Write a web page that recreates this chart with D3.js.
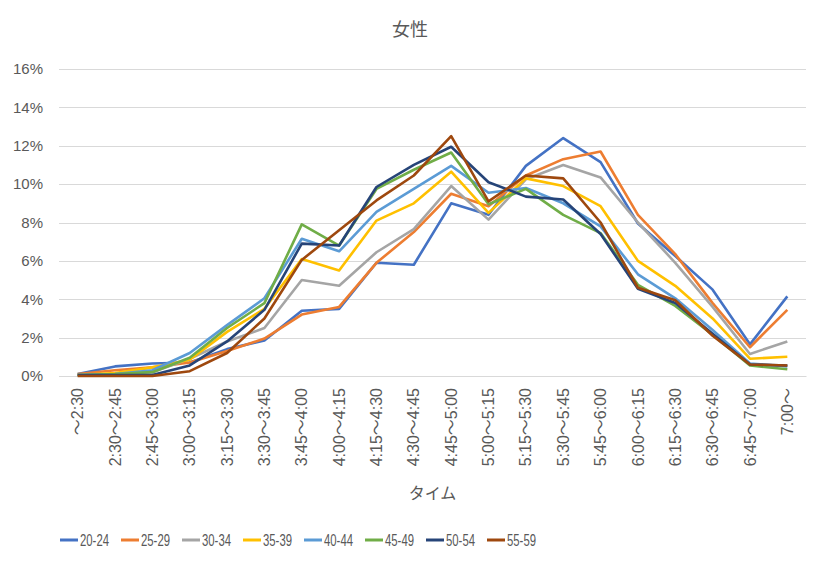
<!DOCTYPE html>
<html>
<head>
<meta charset="utf-8">
<script src="https://d3js.org/d3.v7.min.js"></script>
<style>
  body { margin: 0; background: #fff; overflow: hidden; }
  .grid line { stroke: #d9d9d9; stroke-width: 1; }
  .multiline { fill: none; stroke-width: 2.6; stroke-linejoin: round; }
</style>
</head>
<body>
<div id="multilineplot"></div>
<script>
//Data
var timeSlots = ["～2:30", "2:30～2:45", "2:45～3:00", "3:00～3:15", "3:15～3:30", "3:30～3:45",
  "3:45～4:00", "4:00～4:15", "4:15～4:30", "4:30～4:45", "4:45～5:00", "5:00～5:15",
  "5:15～5:30", "5:30～5:45", "5:45～6:00", "6:00～6:15", "6:15～6:30", "6:30～6:45",
  "6:45～7:00", "7:00～"];
var ageGroups = ["20-24", "25-29", "30-34", "35-39", "40-44", "45-49", "50-54", "55-59"];
var yTicks = [0, 2, 4, 6, 8, 10, 12, 14, 16];

// percentages per time slot
var age20_24 = [0.1, 0.5, 0.65, 0.7, 1.4, 1.85, 3.4, 3.5, 5.9, 5.8, 9.0, 8.4, 10.95, 12.4, 11.15, 7.95, 6.25, 4.5, 1.65, 4.15];
var age25_29 = [0.1, 0.3, 0.45, 0.7, 1.3, 1.95, 3.2, 3.6, 5.9, 7.5, 9.5, 8.85, 10.45, 11.3, 11.7, 8.4, 6.35, 3.8, 1.5, 3.45];
var age30_34 = [0.05, 0.1, 0.2, 0.9, 1.8, 2.5, 5.0, 4.7, 6.45, 7.65, 9.9, 8.15, 10.25, 11.0, 10.35, 8.0, 5.9, 3.6, 1.15, 1.8];
var age35_39 = [0.05, 0.15, 0.45, 0.85, 2.3, 3.5, 6.1, 5.5, 8.1, 9.0, 10.65, 8.5, 10.3, 9.9, 8.85, 6.0, 4.7, 3.0, 0.9, 1.0];
var age40_44 = [0.05, 0.1, 0.3, 1.2, 2.65, 4.05, 7.15, 6.5, 8.55, 9.75, 10.95, 9.55, 9.8, 9.0, 7.8, 5.3, 4.05, 2.4, 0.65, 0.5];
var age45_49 = [0.05, 0.1, 0.2, 0.95, 2.5, 3.8, 7.9, 6.8, 9.75, 10.75, 11.65, 8.95, 9.75, 8.4, 7.45, 4.75, 3.65, 2.15, 0.55, 0.35];
var age50_54 = [0.05, 0.05, 0.05, 0.55, 1.8, 3.45, 6.9, 6.8, 9.85, 11.0, 11.95, 10.1, 9.35, 9.2, 7.4, 4.55, 3.8, 2.2, 0.6, 0.55];
var age55_59 = [0.0, 0.0, 0.0, 0.25, 1.2, 3.0, 6.05, 7.6, 9.15, 10.45, 12.5, 9.1, 10.45, 10.3, 8.0, 4.6, 3.95, 2.1, 0.6, 0.55];
var seriesValues = [age20_24, age25_29, age30_34, age35_39, age40_44, age45_49, age50_54, age55_59];

//Size and margins
const width = 820, height = 565;
const margin = { top: 69, right: 14, bottom: 189, left: 59 };
const innerWidth = width - margin.left - margin.right;
const innerHeight = height - margin.top - margin.bottom;
const fontStack = '"Liberation Sans", "Noto Sans CJK JP", sans-serif';

//Color scale
var colorAge = d3.scaleOrdinal()
  .domain(ageGroups)
  .range(['#4472c4', '#ed7d31', '#a5a5a5', '#ffc000', '#5b9bd5', '#70ad47', '#264478', '#9e480e']);

//Categories (one per line)
var categories = ageGroups.map(function(name, i) {
  return {
    name: name,
    values: timeSlots.map(function(t, j) {
      return { Slot: t, Pct: seriesValues[i][j] };
    })
  };
});

//Scales
var xScale = d3.scaleBand()
  .domain(timeSlots)
  .range([0, innerWidth]);
var yScale = d3.scaleLinear()
  .domain([0, 16])
  .range([innerHeight, 0]);

function xCenter(slot) { return xScale(slot) + xScale.bandwidth() / 2; }

//SVG
const svg = d3.select('#multilineplot')
  .append('svg')
  .attr('width', width)
  .attr('height', height)
  .style('display', 'block');

var g = svg.append('g')
  .attr('transform', 'translate(' + margin.left + ',' + margin.top + ')');

//Gridlines
g.append('g')
  .attr('class', 'grid')
  .selectAll('line')
  .data(yTicks)
  .enter().append('line')
  .attr('x1', 0)
  .attr('x2', innerWidth)
  .attr('y1', function(d) { return Math.round(yScale(d)) + 0.5; })
  .attr('y2', function(d) { return Math.round(yScale(d)) + 0.5; });

//Y axis
var yAxis = d3.axisLeft(yScale)
  .tickValues(yTicks)
  .tickSize(0)
  .tickPadding(16)
  .tickFormat(function(d) { return d + '%'; });
var yAxisG = g.append('g')
  .attr('class', 'yAxis')
  .call(yAxis)
  .attr('font-family', fontStack)
  .attr('font-size', 15);
yAxisG.select('.domain').remove();
yAxisG.selectAll('text').attr('fill', '#595959');

//X axis
var xAxis = d3.axisBottom(xScale).tickSize(0);
var xAxisG = g.append('g')
  .attr('class', 'xAxis')
  .attr('transform', 'translate(0,' + innerHeight + ')')
  .call(xAxis)
  .attr('font-family', fontStack)
  .attr('font-size', 16);
xAxisG.select('.domain')
  .attr('stroke', '#d9d9d9');
xAxisG.selectAll('text')
  .attr('fill', '#595959')
  .attr('text-anchor', 'end')
  .attr('dy', '0.35em')
  .attr('y', 0)
  .attr('x', -12)
  .attr('transform', 'rotate(-90)');

//Title and axis label
svg.append('text')
  .attr('x', 410)
  .attr('y', 36)
  .attr('text-anchor', 'middle')
  .attr('font-family', fontStack)
  .attr('font-size', 18)
  .attr('fill', '#595959')
  .text('女性');
svg.append('text')
  .attr('x', margin.left + innerWidth / 2)
  .attr('y', 499)
  .attr('text-anchor', 'middle')
  .attr('font-family', fontStack)
  .attr('font-size', 16)
  .attr('fill', '#595959')
  .text('タイム');

//Lines
var line = d3.line()
  .x(function(d) { return xCenter(d.Slot); })
  .y(function(d) { return yScale(d.Pct); });

g.selectAll('.category')
  .data(categories)
  .enter().append('path')
  .attr('class', 'multiline')
  .attr('d', function(d) { return line(d.values); })
  .style('stroke', function(d) { return colorAge(d.name); });

//Legend
var legend = svg.selectAll('.legend')
  .data(ageGroups)
  .enter().append('g')
  .attr('class', 'legend')
  .attr('transform', function(d, i) { return 'translate(' + (60 + i * 61) + ',540)'; });
legend.append('line')
  .attr('x1', 0)
  .attr('x2', 18)
  .attr('stroke-width', 3)
  .attr('stroke', function(d) { return colorAge(d); });
legend.append('text')
  .attr('x', 20)
  .attr('dy', '0.36em')
  .attr('textLength', 29)
  .attr('lengthAdjust', 'spacingAndGlyphs')
  .attr('font-family', fontStack)
  .attr('font-size', 16)
  .attr('fill', '#595959')
  .text(function(d) { return d; });
</script>
</body>
</html>
